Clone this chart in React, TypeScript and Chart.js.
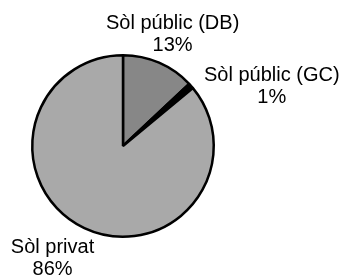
import React, { useEffect, useRef } from "react";
import { Chart, registerables } from "chart.js";

Chart.register(...registerables);

const categories = ["Sòl públic (DB)", "Sòl públic (GC)", "Sòl privat"];
const values = [13, 1, 86];
const sliceColors = ["#878787", "#000000", "#a9a9a9"];

const total = values.reduce((a, b) => a + b, 0);
const percentLabels = values.map((v) => `${Math.round((v / total) * 100)}%`);

const outerLabelsPlugin = {
  id: "outerLabels",
  afterDatasetsDraw(chart: any, _args: any, opts: any) {
    const ctx = chart.ctx;
    const meta = chart.getDatasetMeta(0);
    ctx.save();
    ctx.font = `${opts.fontSize}px ${opts.fontFamily}`;
    ctx.fillStyle = "#000";
    ctx.textAlign = "center";
    ctx.textBaseline = "alphabetic";
    meta.data.forEach((arc: any, i: number) => {
      const p = arc.getProps(["x", "y", "startAngle", "endAngle", "outerRadius"], true);
      const mid = (p.startAngle + p.endAngle) / 2;
      const r = p.outerRadius + opts.gap;
      const ax = p.x + Math.cos(mid) * r;
      const ay = p.y + Math.sin(mid) * r;
      const [dx, dy] = opts.offsets[i];
      ctx.fillText(categories[i], ax + dx, ay + dy);
      ctx.fillText(percentLabels[i], ax + dx, ay + dy + opts.lineHeight);
    });
    ctx.restore();
  },
};

export default function App() {
  const canvasRef = useRef<HTMLCanvasElement | null>(null);

  useEffect(() => {
    if (!canvasRef.current) return;
    const chart = new Chart(canvasRef.current, {
      type: "pie",
      data: {
        labels: categories,
        datasets: [
          {
            data: values,
            backgroundColor: sliceColors,
            borderColor: "#000000",
            borderWidth: 2.5,
          },
        ],
      },
      options: {
        animation: false,
        responsive: true,
        maintainAspectRatio: false,
        layout: { padding: { left: 31, right: 129, top: 54, bottom: 41 } },
        plugins: {
          legend: { display: false },
          tooltip: { enabled: false },
          outerLabels: {
            fontSize: 20,
            fontFamily: '"Liberation Sans", Arial, sans-serif',
            gap: 9,
            lineHeight: 22,
            offsets: [
              [10, -25],
              [74, 1],
              [-28, 17],
            ],
          },
        } as any,
      },
      plugins: [outerLabelsPlugin],
    });
    return () => chart.destroy();
  }, []);

  return (
    <div
      style={{
        position: "fixed",
        left: 0,
        top: 0,
        width: 344,
        height: 279,
        background: "#ffffff",
      }}
    >
      <canvas ref={canvasRef} />
    </div>
  );
}
